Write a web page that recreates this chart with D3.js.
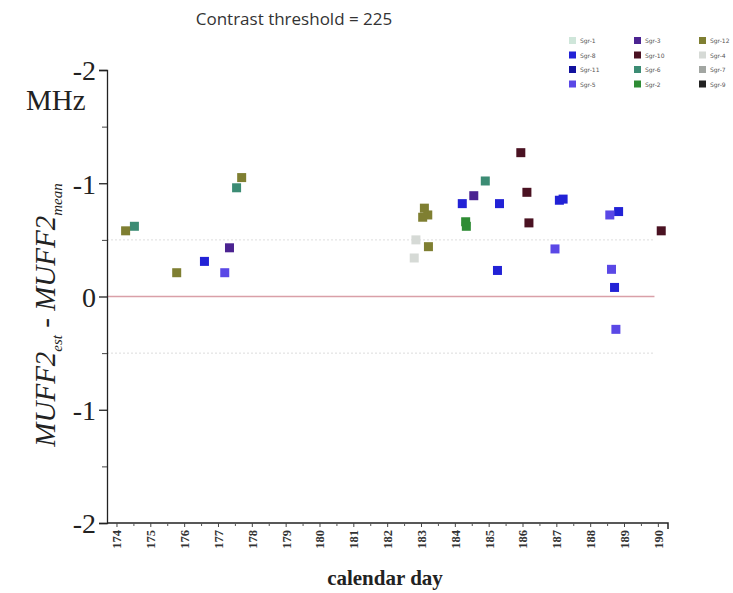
<!DOCTYPE html>
<html><head><meta charset="utf-8">
<script src="https://cdn.jsdelivr.net/npm/d3@7"></script>
<style>body{margin:0;background:#fff}svg{display:block}</style>
</head><body>
<svg id="c" width="733" height="593"></svg>
<script>
const title = "Contrast threshold = 225";
const days = [174,175,176,177,178,179,180,181,182,183,184,185,186,187,188,189,190];
const yTicks = [-2,-1,0,1,2];
const yTickLabels = ["-2","-1","0","-1","-2"];
const seriesNames = ["Sgr-1","Sgr-8","Sgr-11","Sgr-5","Sgr-3","Sgr-10","Sgr-6","Sgr-2","Sgr-12","Sgr-4","Sgr-7","Sgr-9"];
const seriesColors = ["#cfe6da","#2222d6","#12129e","#5a48e6","#4b2391","#4a1222","#3c8c74","#2e8c34","#7f7f32","#d6dad6","#a2a6a2","#222222"];
// [day, value] per series
const s0 = [];
const s1 = [[176.6,-0.31],[184.22,-0.82],[185.32,-0.82],[185.26,-0.23],[187.09,-0.85],[187.2,-0.86],[188.72,-0.08],[188.84,-0.75]];
const s2 = [];
const s3 = [[177.2,-0.21],[186.96,-0.42],[188.63,-0.24],[188.58,-0.72],[188.76,0.29]];
const s4 = [[177.34,-0.43],[184.56,-0.89]];
const s5 = [[185.95,-1.27],[186.13,-0.92],[186.19,-0.65],[190.1,-0.58]];
const s6 = [[174.53,-0.62],[177.55,-0.96],[184.9,-1.02]];
const s7 = [[184.34,-0.62],[184.32,-0.66]];
const s8 = [[174.27,-0.58],[175.78,-0.21],[177.7,-1.05],[183.1,-0.78],[183.2,-0.72],[183.05,-0.7],[183.22,-0.44]];
const s9 = [[182.85,-0.5],[182.8,-0.34]];
const s10 = [];
const s11 = [];
const seriesData = [s0,s1,s2,s3,s4,s5,s6,s7,s8,s9,s10,s11];
const refLines = [-0.5, 0.5];

const svg = d3.select("#c");
const x = d3.scaleLinear().domain([173.72,190.3]).range([107,668]);
const y = d3.scaleLinear().domain([-2,2]).range([70,523]);

// title
svg.append("text").attr("x",294).attr("y",25).attr("text-anchor","middle")
  .attr("font-family","Open Sans, sans-serif").attr("font-size",17).attr("font-weight",500).attr("fill","#333").text(title);

// reference lines
refLines.forEach(v=>{
  svg.append("line").attr("x1",x(173.72)).attr("x2",x(189.9)).attr("y1",y(v)).attr("y2",y(v))
    .attr("stroke","#ddd").attr("stroke-width",1).attr("stroke-dasharray","2,2");
});
svg.append("line").attr("x1",x(173.72)).attr("x2",x(189.9)).attr("y1",y(0)).attr("y2",y(0))
  .attr("stroke","#d9a0a8").attr("stroke-width",1.3);

// y axis
const yAxis = d3.axisLeft(y).tickValues(yTicks).tickSize(8).tickPadding(3)
  .tickFormat((d,i)=>yTickLabels[i]);
const gy = svg.append("g").attr("transform","translate(107,0)").call(yAxis);
gy.select(".domain").attr("stroke","#222").attr("stroke-width",1.3);
gy.selectAll(".tick line").attr("stroke","#222").attr("stroke-width",1.3);
gy.selectAll(".tick text").attr("font-family","Liberation Serif, serif").attr("font-size",28).attr("fill","#222").attr("dy","0.35em");
const gym = svg.append("g").attr("transform","translate(107,0)")
  .call(d3.axisLeft(y).tickValues([-1.5,-0.5,0.5,1.5]).tickSize(5).tickFormat(""));
gym.select(".domain").remove();
gym.selectAll(".tick line").attr("stroke","#444");

// x axis
const xAxis = d3.axisBottom(x).tickValues(days).tickSize(4).tickPadding(3).tickFormat(d3.format("d"));
const gx = svg.append("g").attr("transform","translate(0,523)").call(xAxis);
gx.select(".domain").attr("stroke","#222").attr("stroke-width",1.5).attr("d","M107,0H668V6");
gx.selectAll(".tick line").attr("stroke","#444");
gx.selectAll(".tick text").attr("font-family","Liberation Serif, serif").attr("font-size",12.5)
  .attr("font-weight","bold").attr("fill","#333")
  .attr("transform","rotate(-90)").attr("text-anchor","end").attr("x",-7).attr("y",0).attr("dy","0.35em");
const gxm = svg.append("g").attr("transform","translate(0,523)")
  .call(d3.axisBottom(x).tickValues(days.slice(0,-1).map(d=>d+0.5)).tickSize(3).tickFormat(""));
gxm.select(".domain").remove();
gxm.selectAll(".tick line").attr("stroke","#555");

// axis labels
svg.append("text").attr("x",385).attr("y",585).attr("text-anchor","middle")
  .attr("font-family","Liberation Serif, serif").attr("font-weight","bold").attr("font-size",21).attr("fill","#222").text("calendar day");
svg.append("text").attr("x",26).attr("y",110)
  .attr("font-family","Liberation Serif, serif").attr("font-size",29).attr("fill","#222").text("MHz");
const yl = svg.append("text").attr("transform","translate(55,315) rotate(-90)").attr("text-anchor","middle")
  .attr("font-family","Liberation Serif, serif").attr("font-style","italic").attr("font-size",29).attr("fill","#222");
yl.append("tspan").text("MUFF2");
yl.append("tspan").attr("font-size",15).attr("dy",7).text("est");
yl.append("tspan").attr("dy",-7).text(" - MUFF2");
yl.append("tspan").attr("font-size",15).attr("dy",7).text("mean");

// points
seriesData.forEach((arr,i)=>{
  svg.append("g").selectAll("rect").data(arr).join("rect")
    .attr("x",d=>x(d[0])-4.5).attr("y",d=>y(d[1])-4.5).attr("width",9).attr("height",9)
    .attr("fill",seriesColors[i]);
});

// legend
const lg = svg.append("g");
seriesNames.forEach((n,i)=>{
  const col = Math.floor(i/4), row = i%4;
  const lx = 569 + col*65, ly = 37 + row*14.5;
  lg.append("rect").attr("x",lx).attr("y",ly).attr("width",7).attr("height",7).attr("fill",seriesColors[i]);
  lg.append("text").attr("x",lx+11).attr("y",ly+6).attr("font-family","DejaVu Sans, sans-serif")
    .attr("font-size",6).attr("fill","#555").text(n);
});
</script>
</body></html>
